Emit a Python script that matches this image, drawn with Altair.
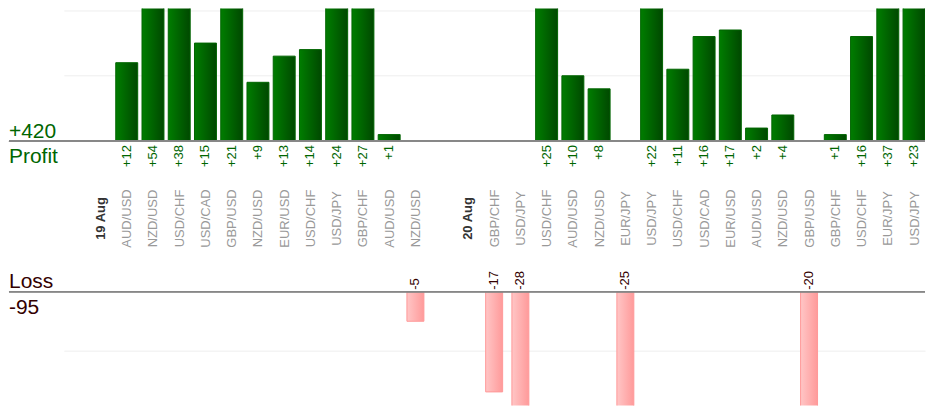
import altair as alt
import pandas as pd

# ---- data ----
day1_label = "19 Aug"
day1_pairs = ["AUD/USD", "NZD/USD", "USD/CHF", "USD/CAD", "GBP/USD", "NZD/USD",
              "EUR/USD", "USD/CHF", "USD/JPY", "GBP/CHF", "AUD/USD", "NZD/USD"]
day1_results = [12, 54, 38, 15, 21, 9, 13, 14, 24, 27, 1, -5]

day2_label = "20 Aug"
day2_pairs = ["GBP/CHF", "USD/JPY", "USD/CHF", "AUD/USD", "NZD/USD", "EUR/JPY",
              "USD/JPY", "USD/CHF", "USD/CAD", "EUR/USD", "AUD/USD", "NZD/USD",
              "GBP/USD", "GBP/CHF", "USD/CHF", "EUR/JPY", "USD/JPY"]
day2_results = [-17, -28, 25, 10, 8, -25, 22, 11, 16, 17, 2, 4, -20, 1, 16, 37, 23]

# ---- slot sequence: date label, trades, spacer, date label, trades ----
labels = []
trades = []
date_slots = []

date_slots.append(len(labels)); labels.append(day1_label)
for p, r in zip(day1_pairs, day1_results):
    trades.append({"slot": len(labels), "result": r}); labels.append(p)
labels.append("")
date_slots.append(len(labels)); labels.append(day2_label)
for p, r in zip(day2_pairs, day2_results):
    trades.append({"slot": len(labels), "result": r}); labels.append(p)

df = pd.DataFrame(trades)
profit_df = df[df.result > 0].copy()
profit_df["label"] = profit_df.result.map(lambda v: f"+{v}")
loss_df = df[df.result < 0].copy()
loss_df["label"] = loss_df.result.map(lambda v: f"{v}")

total_profit = int(profit_df.result.sum())
total_loss = int(loss_df.result.sum())

FONT = "Liberation Sans"
W = 863
H_TOP = 133
H_BOT = 114
LEFT = -55

label_js = "[" + ",".join("'" + s + "'" for s in labels) + "]"
date_js = "[" + ",".join(str(i) for i in date_slots) + "]"
is_date = f"indexof({date_js}, datum.value) >= 0"

xscale = alt.Scale(domain=[-1.3954, 31.418], nice=False, zero=False, padding=0)
x_top = alt.X("slot:Q", scale=xscale, title=None, axis=alt.Axis(
    values=list(range(len(labels))),
    labelExpr=f"{label_js}[datum.value]",
    labelAngle=270, labelAlign="center", labelBaseline="middle",
    labelPadding=77, ticks=False, domain=False, grid=False,
    labelFontSize=13, labelFont=FONT, labelOverlap=False, labelBound=False,
    labelFlush=False,
    labelColor={"condition": {"test": is_date, "value": "#333333"}, "value": "#999999"},
    labelFontWeight={"condition": {"test": is_date, "value": "bold"}, "value": "normal"},
))
x_bot = alt.X("slot:Q", scale=xscale, axis=None)

green = alt.Gradient(gradient="linear", x1=0, x2=1, y1=0, y2=0, stops=[
    alt.GradientStop(color="#007d00", offset=0),
    alt.GradientStop(color="#004800", offset=1)])
pink = alt.Gradient(gradient="linear", x1=0, x2=1, y1=0, y2=0, stops=[
    alt.GradientStop(color="#ffc6c6", offset=0),
    alt.GradientStop(color="#ff9a9a", offset=1)])

# ---- profit panel ----
ytop = alt.Y("result:Q", title=None,
             scale=alt.Scale(domain=[0, 20.3], nice=False, zero=True),
             axis=alt.Axis(values=[10, 20], labels=False, ticks=False, domain=False,
                           grid=True, gridColor="#eeeeee"))

top_bars = alt.Chart(profit_df).mark_bar(clip=True, width=22, color=green,
                                         stroke="#006400", strokeWidth=1).encode(
    x=x_top, y=ytop)
top_text = alt.Chart(profit_df).mark_text(angle=270, align="right", baseline="middle",
                                          dx=-4, fontSize=13, font=FONT,
                                          color="#006600").encode(
    x=x_top, y=alt.datum(0), text="label:N")
top_rule = alt.Chart(profit_df).mark_rule(color="#888888", strokeWidth=1).encode(
    x=alt.value(LEFT), x2=alt.value(W), y=alt.datum(0))
top_totals = pd.DataFrame({"t": [f"+{total_profit}", "Profit"]})
top_t1 = alt.Chart(top_totals.iloc[[0]]).mark_text(
    align="left", baseline="alphabetic", fontSize=21, font=FONT, color="#006600",
    dy=-3).encode(x=alt.value(LEFT), y=alt.datum(0), text="t:N")
top_t2 = alt.Chart(top_totals.iloc[[1]]).mark_text(
    align="left", baseline="alphabetic", fontSize=21, font=FONT, color="#006600",
    dy=22).encode(x=alt.value(LEFT), y=alt.datum(0), text="t:N")

top = alt.layer(top_bars, top_text, top_rule, top_t1, top_t2).properties(
    width=W, height=H_TOP)

# ---- loss panel ----
ybot = alt.Y("result:Q", title=None,
             scale=alt.Scale(domain=[-H_BOT / 5.9, 0], nice=False, zero=True),
             axis=alt.Axis(values=[-10], labels=False, ticks=False, domain=False,
                           grid=True, gridColor="#eeeeee"))

bot_bars = alt.Chart(loss_df).mark_bar(clip=True, width=17, color=pink, stroke="#ff9999",
                                       strokeWidth=1).encode(x=x_bot, y=ybot)
bot_text = alt.Chart(loss_df).mark_text(angle=270, align="left", baseline="middle",
                                        dx=2, fontSize=13, font=FONT,
                                        color="#330000").encode(
    x=x_bot, y=alt.datum(0), text="label:N")
bot_rule = alt.Chart(loss_df).mark_rule(color="#888888", strokeWidth=1).encode(
    x=alt.value(LEFT), x2=alt.value(W), y=alt.datum(0))
bot_totals = pd.DataFrame({"t": ["Loss", f"{total_loss}"]})
bot_t1 = alt.Chart(bot_totals.iloc[[0]]).mark_text(
    align="left", baseline="alphabetic", fontSize=21, font=FONT, color="#330000",
    dy=-4).encode(x=alt.value(LEFT), y=alt.datum(0), text="t:N")
bot_t2 = alt.Chart(bot_totals.iloc[[1]]).mark_text(
    align="left", baseline="alphabetic", fontSize=21, font=FONT, color="#330000",
    dy=22).encode(x=alt.value(LEFT), y=alt.datum(0), text="t:N")

bottom = alt.layer(bot_bars, bot_text, bot_rule, bot_t1, bot_t2).properties(
    width=W, height=H_BOT)

chart = alt.vconcat(top, bottom, spacing=23).properties(padding=0).configure_view(
    stroke=None)

chart.save("out.html", embed_options={"renderer": "svg", "actions": False})
